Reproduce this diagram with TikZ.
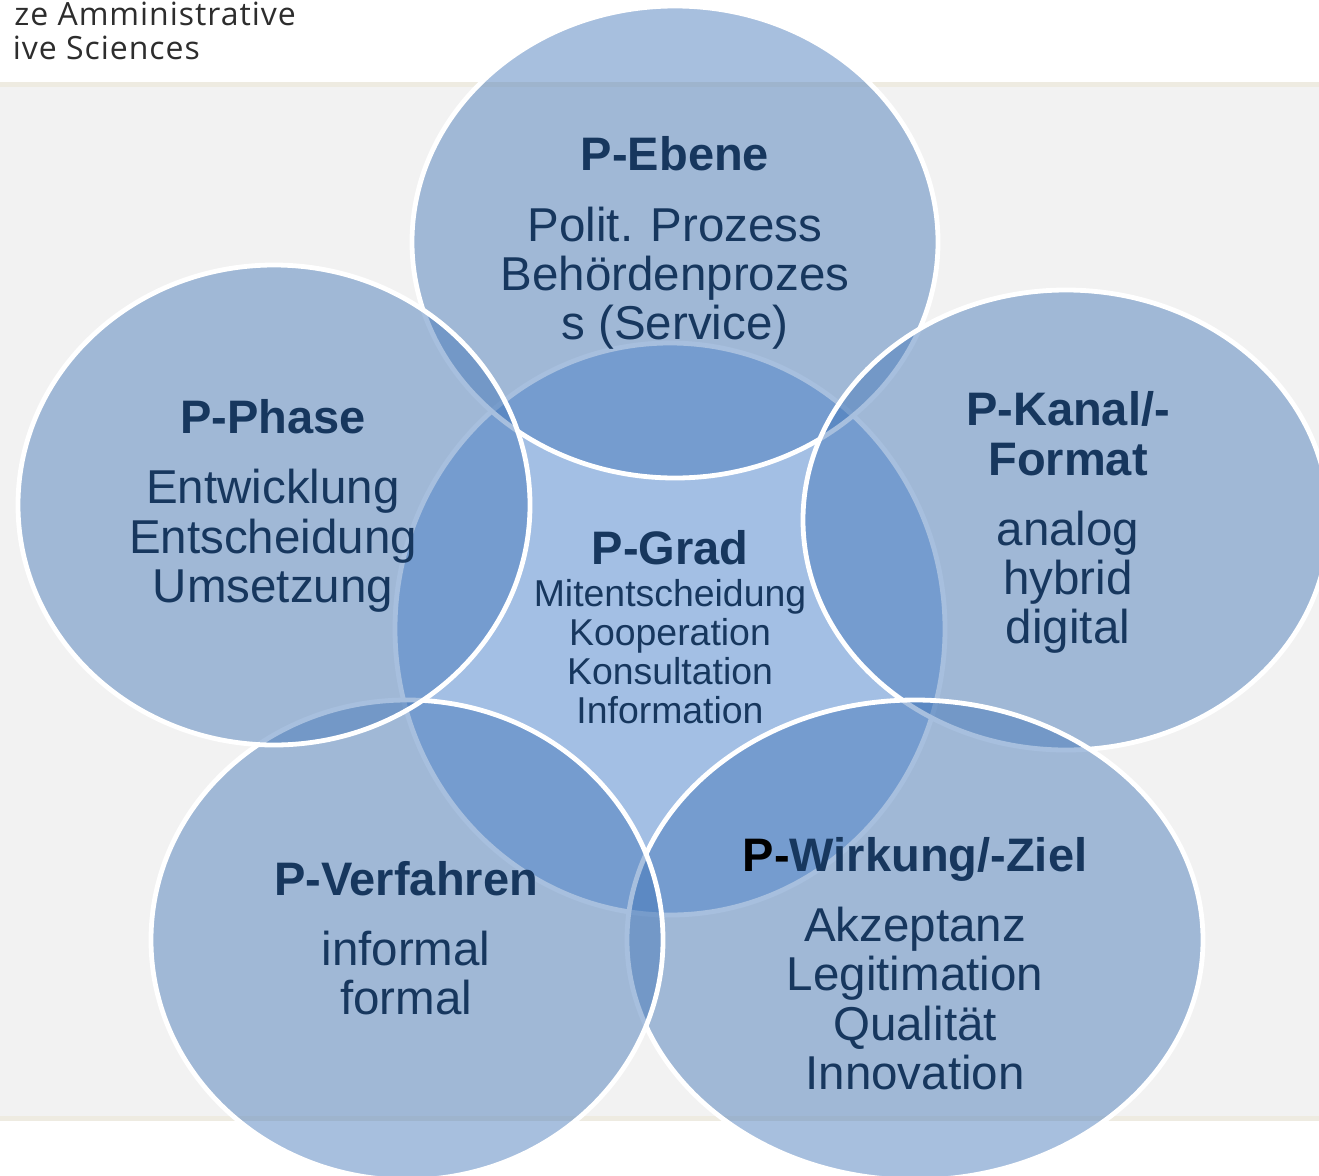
\documentclass[tikz,border=0pt]{standalone}
\usepackage{fontspec}
\setmainfont{Liberation Sans}
\newfontfamily\headfont[LetterSpace=3]{Open Sans}
\usetikzlibrary{shapes.geometric}
\definecolor{bandgray}{RGB}{242,242,242}
\definecolor{bandbeige}{RGB}{238,235,225}
\definecolor{outerblue}{RGB}{62,115,182}
\definecolor{centerblue}{RGB}{69,129,211}
\definecolor{navy}{RGB}{23,55,94}
\definecolor{headgray}{RGB}{45,45,45}
\tikzset{
  blob/.style={ellipse, draw=white, line width=4.8pt, fill=outerblue, fill opacity=0.45, inner sep=0pt, outer sep=0pt},
  cblob/.style={blob, fill=centerblue},
  ttl/.style={anchor=base, inner sep=0pt, text=navy, font=\fontsize{47}{49}\selectfont\bfseries},
  bdy/.style={anchor=base, inner sep=0pt, text=navy, font=\fontsize{47.5}{49}\selectfont},
  sbdy/.style={anchor=base, inner sep=0pt, text=navy, font=\fontsize{37.4}{39}\selectfont},
  head/.style={anchor=base east, inner sep=0pt, text=headgray, font=\headfont\fontsize{32}{34}\selectfont}
}
\begin{document}
\begin{tikzpicture}[x=1pt,y=-1pt]
\useasboundingbox (0,0) rectangle (1319,1175);
% background band
\fill[white] (0,0) rectangle (1319,1175);
\fill[bandbeige] (0,82) rectangle (1319,87);
\fill[bandgray] (0,87) rectangle (1319,1116);
\fill[bandbeige] (0,1116) rectangle (1319,1121);
% header
\node[head] (h1) at (296,25) {ze Amministrative};
\node[head] (h2) at (200,59) {ive Sciences};
% P-Grad (bottom layer)
\node[cblob, minimum width=550pt, minimum height=572pt] (grad) at (670,629) {};
\node[ttl] (gradT) at (670,564) {P-Grad};
\node[sbdy] (grad1) at (670,606) {Mitentscheidung};
\node[sbdy] (grad2) at (670,645) {Kooperation};
\node[sbdy] (grad3) at (670,684) {Konsultation};
\node[sbdy] (grad4) at (670,723) {Information};
% P-Ebene
\node[blob, minimum width=526pt, minimum height=472pt] (ebene) at (675,242) {};
\node[ttl] (ebeneT) at (675,170) {P-Ebene};
\node[bdy] (ebene1) at (675,241) {Polit. Prozess};
\node[bdy] (ebene2) at (675,290) {Behördenprozes};
\node[bdy] (ebene3) at (675,339) {s (Service)};
% P-Kanal/-Format
\node[blob, minimum width=526pt, minimum height=460pt] (kanal) at (1066,520) {};
\node[ttl] (kanalT1) at (1068,425) {P-Kanal/-};
\node[ttl] (kanalT2) at (1068,475) {Format};
\node[bdy] (kanal1) at (1068,545) {analog};
\node[bdy] (kanal2) at (1068,594) {hybrid};
\node[bdy] (kanal3) at (1068,643) {digital};
% P-Wirkung/-Ziel
\node[blob, minimum width=576pt, minimum height=480pt] (wirkung) at (915,940) {};
\node[ttl] (wirkungT) at (915,871) {\textcolor{black}{P-}Wirkung/-Ziel};
\node[bdy] (wirkung1) at (915,941) {Akzeptanz};
\node[bdy] (wirkung2) at (915,990) {Legitimation};
\node[bdy] (wirkung3) at (915,1040) {Qualität};
\node[bdy] (wirkung4) at (915,1089) {Innovation};
% P-Verfahren
\node[blob, minimum width=512pt, minimum height=480pt] (verfahren) at (407,940) {};
\node[ttl] (verfahrenT) at (406,895) {P-Verfahren};
\node[bdy] (verfahren1) at (406,965) {informal};
\node[bdy] (verfahren2) at (406,1014) {formal};
% P-Phase (top layer)
\node[blob, minimum width=512pt, minimum height=480pt] (phase) at (274,505) {};
\node[ttl] (phaseT) at (273,433) {P-Phase};
\node[bdy] (phase1) at (273,503) {Entwicklung};
\node[bdy] (phase2) at (273,553) {Entscheidung};
\node[bdy] (phase3) at (273,602) {Umsetzung};
\end{tikzpicture}
\end{document}
